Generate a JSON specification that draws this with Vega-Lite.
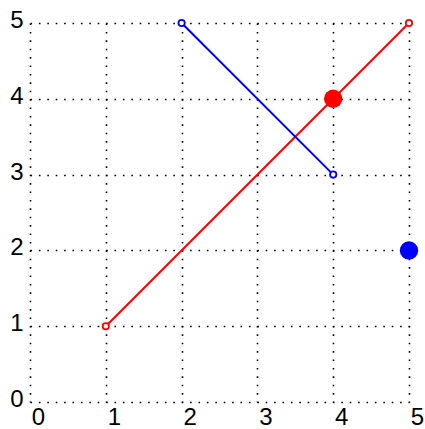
{
  "$schema": "https://vega.github.io/schema/vega-lite/v6.json",
  "autosize": "none",
  "width": 379,
  "height": 379,
  "padding": {"left": 30, "top": 23, "right": 16, "bottom": 27},
  "background": "white",
  "config": {
    "view": {"stroke": null},
    "axis": {
      "domain": false,
      "ticks": false,
      "grid": true,
      "gridColor": "black",
      "gridOpacity": 1,
      "gridWidth": 1.6,
      "gridDash": [1.6, 6.8],
      "labelFont": "Liberation Sans",
      "labelFontSize": 24,
      "labelColor": "black",
      "title": null
    }
  },
  "datasets": {
    "lines": [
      {"series": "red", "x": 1, "y": 1},
      {"series": "red", "x": 5, "y": 5},
      {"series": "blue", "x": 2, "y": 5},
      {"series": "blue", "x": 4, "y": 3}
    ],
    "dots": [
      {"series": "red", "x": 4, "y": 4},
      {"series": "blue", "x": 5, "y": 2}
    ]
  },
  "encoding": {
    "x": {"field": "x", "type": "quantitative", "scale": {"domain": [0, 5], "nice": false, "zero": false},
      "axis": {"values": [0, 1, 2, 3, 4, 5], "labelOffset": 8, "labelPadding": 22, "labelBaseline": "alphabetic", "labelFlush": false}},
    "y": {"field": "y", "type": "quantitative", "scale": {"domain": [0, 5], "nice": false, "zero": false},
      "axis": {"values": [0, 1, 2, 3, 4, 5], "labelPadding": 7, "labelFlush": false, "labelBaseline": "middle", "labelOffset": -2.5}},
    "color": {"field": "series", "type": "nominal", "scale": {"domain": ["red", "blue"], "range": ["#ff0000", "#0000ff"]}, "legend": null}
  },
  "layer": [
    {"data": {"name": "lines"}, "mark": {"type": "line", "strokeWidth": 2}, "encoding": {"detail": {"field": "series"}}},
    {"data": {"name": "lines"}, "mark": {"type": "point", "shape": "circle", "filled": true, "fill": "white", "strokeWidth": 1.8, "size": 40, "opacity": 1}, "encoding": {"stroke": {"field": "series", "type": "nominal", "scale": {"domain": ["red", "blue"], "range": ["#ff0000", "#0000ff"]}, "legend": null}}},
    {"data": {"name": "dots"}, "mark": {"type": "circle", "size": 340, "opacity": 1}}
  ]
}
